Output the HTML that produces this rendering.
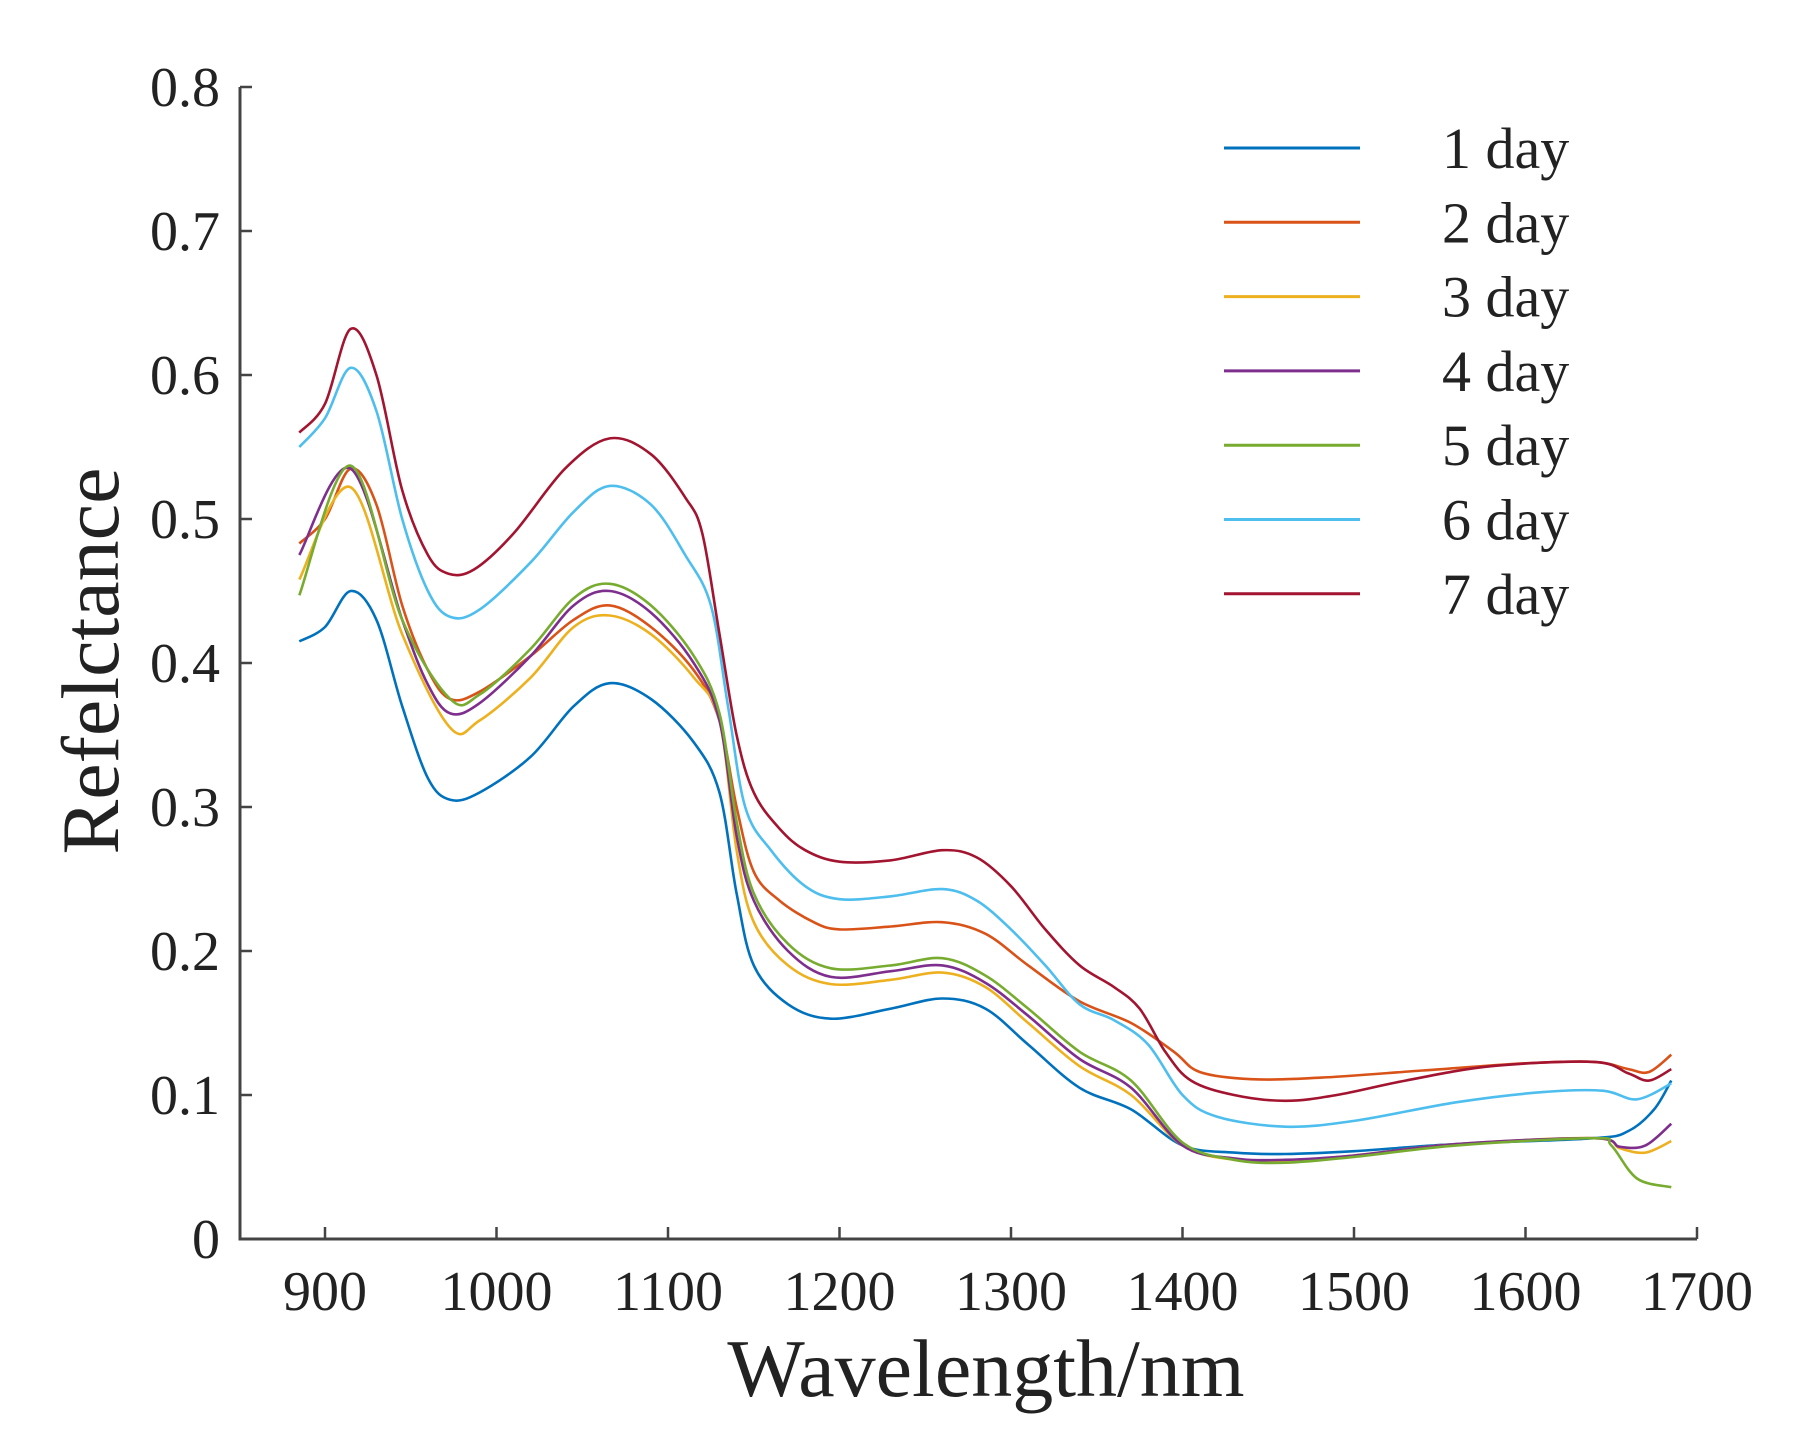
<!DOCTYPE html>
<html><head><meta charset="utf-8"><style>
html,body{margin:0;padding:0;background:#fff;}
svg{display:block;}
text{font-family:"Liberation Serif",serif;fill:#222;}
</style></head><body>
<svg id="s" width="1818" height="1436" viewBox="0 0 1818 1436" xmlns="http://www.w3.org/2000/svg">
<g stroke="#444" stroke-width="3" fill="none">
<path d="M240 87 V1239 H1697"/>
</g>
<g id="ticks" stroke="#444" stroke-width="2.5"></g>
<g font-size="56" text-anchor="end" id="yl"></g>
<g font-size="56" text-anchor="middle" id="xl"></g>
<text x="986" y="1396" font-size="82" text-anchor="middle">Wavelength/nm</text>
<text transform="translate(118,661) rotate(-90)" font-size="82" text-anchor="middle">Refelctance</text>
<g id="curves" fill="none" stroke-width="2.6" stroke-linejoin="round"></g>
<g id="leg"></g>
</svg>
<script>
var NS="http://www.w3.org/2000/svg";
function X(w){return 325+(w-900)*1.715;}
function Y(r){return 1239-r*1440;}
function el(t,a,p,txt){var e=document.createElementNS(NS,t);for(var k in a)e.setAttribute(k,a[k]);if(txt!=null)e.textContent=txt;document.getElementById(p).appendChild(e);}
for(var i=0;i<=8;i++){var y=Y(i/10);if(i>0)el('line',{x1:240,x2:252,y1:y,y2:y},'ticks');el('text',{x:220,y:y+19},'yl',i==0?'0':(i/10).toFixed(1));}
for(var w=900;w<=1700;w+=100){var x=X(w);el('line',{x1:x,x2:x,y1:1239,y2:1227},'ticks');el('text',{x:x,y:1310},'xl',''+w);}
var C=['#0072BD','#D95319','#EDB120','#7E2F8E','#77AC30','#4DBEEE','#A2142F'];
var D=[
[885,.415,900,.425,915,.45,930,.43,945,.37,960,.32,973,.305,990,.31,1020,.335,1045,.37,1066,.386,1090,.375,1115,.345,1130,.31,1140,.24,1150,.19,1170,.163,1195,.153,1230,.16,1260,.167,1285,.16,1310,.135,1340,.105,1370,.09,1400,.065,1430,.06,1460,.059,1500,.061,1560,.066,1640,.07,1660,.075,1675,.09,1685,.11],
[885,.483,900,.5,915,.535,930,.51,945,.44,960,.395,973,.375,990,.38,1020,.405,1045,.43,1066,.44,1090,.425,1115,.395,1130,.36,1140,.3,1150,.255,1165,.235,1185,.22,1200,.215,1230,.217,1260,.22,1285,.212,1310,.19,1340,.165,1370,.15,1395,.13,1410,.116,1440,.111,1480,.112,1540,.117,1600,.122,1640,.123,1660,.118,1672,.116,1685,.128],
[885,.458,915,.522,945,.42,973,.355,990,.36,1020,.39,1045,.425,1066,.433,1090,.42,1115,.39,1130,.36,1140,.27,1150,.22,1170,.19,1195,.177,1230,.18,1260,.185,1285,.175,1310,.15,1340,.12,1370,.1,1400,.065,1430,.055,1460,.054,1500,.058,1560,.066,1640,.07,1655,.063,1670,.06,1685,.068],
[885,.475,915,.535,945,.43,960,.385,973,.365,990,.372,1020,.405,1045,.44,1066,.45,1090,.435,1115,.4,1130,.36,1140,.28,1150,.235,1170,.2,1195,.182,1230,.186,1260,.19,1285,.178,1310,.155,1340,.125,1370,.105,1400,.065,1430,.056,1460,.055,1500,.058,1560,.066,1640,.07,1655,.064,1670,.065,1685,.08],
[885,.447,915,.537,945,.43,973,.375,990,.378,1020,.41,1045,.445,1066,.455,1090,.44,1115,.405,1130,.365,1140,.29,1150,.24,1170,.205,1195,.188,1230,.19,1260,.195,1285,.183,1310,.16,1340,.13,1370,.11,1400,.067,1430,.055,1460,.053,1500,.057,1560,.065,1640,.07,1650,.065,1665,.042,1685,.036],
[885,.55,900,.57,915,.605,930,.575,945,.5,960,.45,973,.432,990,.437,1020,.47,1045,.505,1066,.523,1090,.51,1110,.475,1125,.44,1135,.37,1145,.3,1160,.27,1180,.245,1200,.236,1230,.238,1260,.243,1280,.235,1300,.215,1320,.19,1340,.163,1360,.152,1380,.135,1400,.1,1420,.085,1460,.078,1500,.082,1560,.095,1610,.102,1645,.103,1665,.097,1685,.108],
[885,.56,900,.58,915,.632,930,.6,945,.52,960,.475,972,.462,987,.465,1010,.49,1040,.535,1066,.556,1090,.545,1110,.515,1120,.49,1130,.42,1140,.35,1150,.31,1165,.285,1180,.27,1200,.262,1230,.263,1260,.27,1280,.265,1300,.245,1320,.215,1340,.19,1360,.175,1375,.16,1390,.13,1405,.11,1430,.1,1460,.096,1490,.1,1530,.11,1580,.12,1640,.123,1660,.115,1672,.11,1685,.118]];
function path(a){var p=[];for(var i=0;i<a.length;i+=2)p.push([X(a[i]),Y(a[i+1])]);
var d='M'+p[0][0].toFixed(1)+' '+p[0][1].toFixed(1);
for(var i=0;i<p.length-1;i++){var p0=p[i?i-1:0],p1=p[i],p2=p[i+1],p3=p[i+2<p.length?i+2:i+1];
var c1=[p1[0]+(p2[0]-p0[0])/6,p1[1]+(p2[1]-p0[1])/6],c2=[p2[0]-(p3[0]-p1[0])/6,p2[1]-(p3[1]-p1[1])/6];
d+=' C'+c1[0].toFixed(1)+' '+c1[1].toFixed(1)+' '+c2[0].toFixed(1)+' '+c2[1].toFixed(1)+' '+p2[0].toFixed(1)+' '+p2[1].toFixed(1);}
return d;}
for(var k=0;k<7;k++){el('path',{d:path(D[k]),stroke:C[k]},'curves');
var ly=148+k*74.3;
el('line',{x1:1224,x2:1360,y1:ly,y2:ly,stroke:C[k],'stroke-width':3},'leg');
el('text',{x:1442,y:ly+20,'font-size':58},'leg',(k+1)+' day');}
</script>
</body></html>
